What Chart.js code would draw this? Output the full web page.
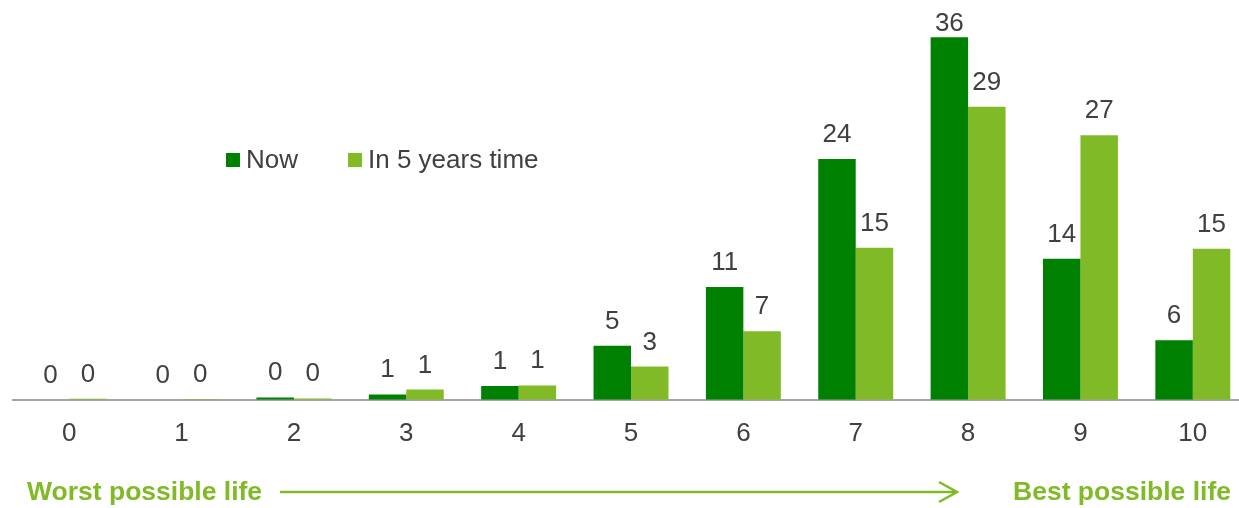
<!DOCTYPE html>
<html>
<head>
<meta charset="utf-8">
<script src="https://cdn.jsdelivr.net/npm/chart.js@4/dist/chart.umd.min.js"></script>
<style>
  html, body { margin: 0; padding: 0; background: #fff; overflow: hidden; }
  #wrap { width: 1239px; height: 508px; overflow: hidden; }
  canvas { display: block; }
</style>
</head>
<body>
<div id="wrap"><canvas id="chart" width="1249" height="508"></canvas></div>
<script>
const categories = ['0', '1', '2', '3', '4', '5', '6', '7', '8', '9', '10']
const nowValues = [0, 0, 0.23, 0.53, 1.36, 5.36, 11.2, 23.9, 36, 14.0, 5.9]
const futureValues = [0.1, 0.05, 0.13, 1.02, 1.42, 3.3, 6.8, 15.1, 29.1, 26.25, 15.0]
const nowLabels = [0, 0, 0, 1, 1, 5, 11, 24, 36, 14, 6]
const futureLabels = [0, 0, 0, 1, 1, 3, 7, 15, 29, 27, 15]

const DARK = '#008000'
const LIGHT = '#80BA27'
const TEXT = '#404040'
const FONT = '"Liberation Sans", Arial, sans-serif'

// value labels above each bar
const barLabels = {
  id: 'barLabels',
  afterDatasetsDraw(chart) {
    const ctx = chart.ctx
    ctx.save()
    ctx.font = '26px ' + FONT
    ctx.fillStyle = TEXT
    ctx.textAlign = 'center'
    ctx.textBaseline = 'alphabetic'
    chart.data.datasets.forEach((ds, i) => {
      const meta = chart.getDatasetMeta(i)
      meta.data.forEach((bar, j) => {
        const y = Math.max(bar.y - 17, 31)
        ctx.fillText(String(ds.valueLabels[j]), bar.x, y)
      })
    })
    ctx.restore()
  }
}

// legend inside the plot + scale annotation under the axis
const extras = {
  id: 'extras',
  afterDraw(chart) {
    const ctx = chart.ctx
    ctx.save()
    ctx.font = '26px ' + FONT
    ctx.textBaseline = 'alphabetic'
    ctx.textAlign = 'left'
    const legendX = [226, 348]
    chart.data.datasets.forEach((ds, i) => {
      ctx.fillStyle = ds.backgroundColor
      ctx.fillRect(legendX[i], 153, 14, 14)
      ctx.fillStyle = TEXT
      ctx.fillText(ds.label, legendX[i] + 20, 168)
    })

    ctx.fillStyle = LIGHT
    ctx.font = 'bold 26.5px ' + FONT
    ctx.textBaseline = 'middle'
    ctx.textAlign = 'left'
    ctx.fillText('Worst possible life', 27, 493)
    ctx.textAlign = 'right'
    ctx.fillText('Best possible life', 1231, 493)

    ctx.strokeStyle = LIGHT
    ctx.lineWidth = 2.5
    ctx.beginPath()
    ctx.moveTo(280, 492)
    ctx.lineTo(956, 492)
    ctx.moveTo(939, 482)
    ctx.lineTo(957, 492)
    ctx.lineTo(939, 502)
    ctx.stroke()
    ctx.restore()
  }
}

new Chart(document.getElementById('chart'), {
  type: 'bar',
  data: {
    labels: categories,
    datasets: [
      {
        label: 'Now',
        data: nowValues,
        valueLabels: nowLabels,
        backgroundColor: DARK,
        borderWidth: 0,
        barPercentage: 1,
        categoryPercentage: 0.667,
      },
      {
        label: 'In 5 years time',
        data: futureValues,
        valueLabels: futureLabels,
        backgroundColor: LIGHT,
        borderWidth: 0,
        barPercentage: 1,
        categoryPercentage: 0.667,
      }
    ]
  },
  options: {
    responsive: false,
    animation: false,
    layout: { padding: { top: 17, left: 13, right: 0, bottom: 41 } },
    scales: {
      x: {
        grid: { display: false, drawTicks: false },
        border: { display: true, color: '#A6A6A6', width: 2 },
        ticks: {
          color: TEXT,
          font: { size: 26, family: FONT },
          padding: 18,
        }
      },
      y: {
        display: false,
        min: 0,
        max: 38,
      }
    },
    plugins: {
      legend: { display: false },
      tooltip: { enabled: false },
    }
  },
  plugins: [barLabels, extras]
})
</script>
</body>
</html>
